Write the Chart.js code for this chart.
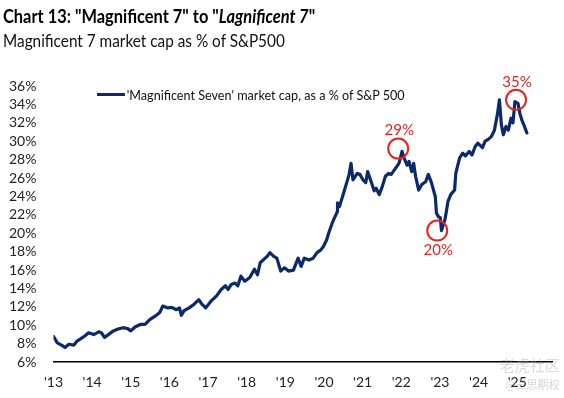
<!DOCTYPE html>
<html>
<head>
<meta charset="utf-8">
<script src="https://cdn.jsdelivr.net/npm/chart.js@4/dist/chart.umd.min.js"></script>
<style>
  html, body { margin:0; padding:0; background:#fff; }
  #wrap { position:relative; width:564px; height:398px; overflow:hidden; font-family:Lato,"Open Sans",sans-serif; }
  #c { position:absolute; left:0; top:0; }
  .fit { position:absolute; white-space:nowrap; transform-origin:0 50%; }
  .title { left:3px; top:4px; font-size:19px; font-weight:bold; color:#000; }
  .sub { left:3px; top:29px; font-size:18px; color:#111; }
  .legend { left:97px; top:86px; font-size:14px; color:#111; display:flex; align-items:center; }
  .legend .ln { display:inline-block; width:31px; height:3px; background:#0c2a6b; margin-right:2px; }
  .wm1 { position:absolute; left:500px; top:354px; font-size:15px; color:rgba(150,150,150,0.35); font-family:"Noto Sans CJK SC",sans-serif; }
  .wm2 { position:absolute; left:505px; top:376px; font-size:11px; color:rgba(150,150,150,0.4); font-family:"Noto Sans CJK SC",sans-serif; }
</style>
</head>
<body>
<div id="wrap">
  <canvas id="c" width="564" height="398"></canvas>
  <div class="fit title" data-w="312">Chart 13: "Magnificent 7" to "<i>Lagnificent 7</i>"</div>
  <div class="fit sub" data-w="282">Magnificent 7 market cap as % of S&amp;P500</div>
  <div class="fit legend" data-w="308"><span class="ln"></span>'Magnificent Seven' market cap, as a % of S&amp;P 500</div>
  <div class="wm1">老虎社区</div>
  <div class="wm2">@三思期权</div>
</div>
<script>
// ---- data (decimal years, % of S&P 500) ----
const dates = [
  2013.00,2013.10,2013.23,2013.30,2013.40,2013.53,2013.61,2013.69,2013.81,2013.91,
  2014.04,2014.17,2014.24,2014.32,2014.42,2014.55,2014.67,2014.80,2014.92,2015.00,
  2015.12,2015.25,2015.37,2015.50,2015.63,2015.75,2015.83,2015.96,2016.06,2016.18,
  2016.26,2016.31,2016.38,2016.51,2016.64,2016.76,2016.84,2016.94,2017.07,2017.22,
  2017.34,2017.45,2017.52,2017.60,2017.70,2017.77,2017.85,2017.95,2018.08,2018.20,
  2018.28,2018.35,2018.45,2018.53,2018.60,2018.70,2018.78,2018.83,2018.88,2018.98,
  2019.08,2019.21,2019.33,2019.41,2019.49,2019.61,2019.72,2019.82,2019.92,2019.99,
  2020.07,2020.12,2020.23,2020.35,2020.35,2020.40,2020.51,2020.61,2020.65,2020.70,
  2020.75,2020.86,2020.93,2021.01,2021.08,2021.13,2021.23,2021.30,2021.35,2021.43,
  2021.51,2021.59,2021.67,2021.74,2021.84,2021.94,2022.02,2022.07,2022.15,2022.20,
  2022.27,2022.32,2022.37,2022.45,2022.53,2022.63,2022.70,2022.78,2022.88,2022.91,
  2022.96,2023.01,2023.04,2023.13,2023.16,2023.21,2023.28,2023.38,2023.41,2023.51,
  2023.59,2023.66,2023.76,2023.83,2023.91,2023.98,2024.10,2024.17,2024.25,2024.33,
  2024.41,2024.49,2024.54,2024.59,2024.64,2024.71,2024.77,2024.84,2024.89,2024.94,
  2025.02,2025.07,2025.12,2025.17,2025.25
];
const values = [
  8.8,8.1,7.8,7.6,7.95,7.85,8.3,8.5,8.85,9.2,
  9.0,9.3,9.2,8.7,9.0,9.4,9.6,9.75,9.65,9.4,
  9.85,10.1,10.1,10.65,11.0,11.4,12.1,11.9,11.95,11.7,
  11.9,11.1,11.6,11.9,12.3,12.8,12.3,11.9,12.6,13.2,
  13.9,14.3,13.9,14.45,14.6,14.3,15.35,14.8,15.2,16.1,
  15.5,16.8,17.2,17.5,17.9,17.5,17.3,16.6,15.9,16.25,
  15.9,16.0,17.3,16.4,17.3,17.1,17.3,17.9,18.2,18.6,
  19.3,20.0,21.3,22.4,23.3,22.9,24.4,25.8,26.4,27.6,
  25.8,26.5,26.4,25.8,25.5,26.7,25.5,24.6,24.9,24.2,
  25.1,26.2,26.5,26.4,27.0,27.6,28.9,28.2,27.4,27.8,
  26.7,27.6,26.2,24.7,25.3,25.6,26.4,25.5,24.0,22.2,
  21.8,21.7,20.3,21.5,22.2,23.5,24.2,24.7,26.5,28.2,
  28.7,28.4,28.9,28.5,29.4,29.8,29.3,30.0,30.2,30.5,
  31.2,33.0,34.5,31.8,30.7,31.6,31.2,32.5,32.0,34.3,
  34.1,33.0,32.3,31.8,30.9
];
const tickYears = [2013,2014,2015,2016,2017,2018,2019,2020,2021,2022,2023,2024,2025];
const tickLabels = ["'13","'14","'15","'16","'17","'18","'19","'20","'21","'22","'23","'24","'25"];
const yTicks = [6,8,10,12,14,16,18,20,22,24,26,28,30,32,34,36];
// highlighted points (circled)
const hiDates  = [2021.92, 2022.93, 2024.97];
const hiValues = [29.2, 20.3, 34.5];
const hiLabels = ["29%", "20%", "35%"];

const RED = '#e52421';
const NAVY = '#0c2a6b';
const FONT = 'Lato,"Open Sans",sans-serif';

// fit header texts to their widths
document.querySelectorAll('.fit').forEach(el => {
  const w = el.scrollWidth;
  const target = +el.dataset.w;
  el.style.transform = 'scaleX(' + (target / w) + ')';
});

const hiLabelPlugin = {
  id: 'hiLabels',
  afterDatasetsDraw(chart) {
    const {ctx, scales:{x, y}} = chart;
    ctx.save();
    ctx.fillStyle = RED;
    ctx.font = '15px ' + FONT;
    ctx.textAlign = 'center';
    ctx.textBaseline = 'middle';
    const offs = [-18, 20, -18];
    hiDates.forEach((d, i) => {
      ctx.fillText(hiLabels[i], x.getPixelForValue(d) + 1, y.getPixelForValue(hiValues[i]) + offs[i]);
    });
    ctx.restore();
  }
};

new Chart(document.getElementById('c'), {
  type: 'line',
  data: {
    datasets: [
      {
        data: dates.map((d, i) => ({x: d, y: values[i]})),
        borderColor: NAVY,
        borderWidth: 3.2,
        borderJoinStyle: 'round',
        borderCapStyle: 'round',
        pointRadius: 0,
        tension: 0,
        fill: false,
        order: 2
      },
      {
        type: 'scatter',
        data: hiDates.map((d, i) => ({x: d, y: hiValues[i]})),
        pointStyle: 'circle',
        pointRadius: 10,
        borderColor: RED,
        borderWidth: 2,
        backgroundColor: 'rgba(0,0,0,0)',
        order: 1
      }
    ]
  },
  options: {
    responsive: false,
    animation: false,
    layout: { padding: { top: 86, right: 7, left: 0, bottom: 3 } },
    plugins: { legend: { display: false }, tooltip: { enabled: false } },
    scales: {
      x: {
        type: 'linear',
        min: 2013,
        max: 2025.9,
        afterBuildTicks(scale) { scale.ticks = tickYears.map(v => ({value: v})); },
        ticks: {
          autoSkip: false,
          maxRotation: 0,
          color: '#222',
          font: { family: FONT, size: 14 },
          padding: 4,
          callback: (v) => tickLabels[tickYears.indexOf(v)] || ''
        },
        grid: { display: false },
        border: { display: true, color: '#000', width: 1.5 }
      },
      y: {
        min: 6,
        max: 36,
        afterBuildTicks(scale) { scale.ticks = yTicks.map(v => ({value: v})); },
        ticks: {
          autoSkip: false,
          color: '#222',
          font: { family: FONT, size: 14 },
          padding: 9,
          callback: (v) => v + '%'
        },
        grid: { display: false },
        border: { display: false }
      }
    }
  },
  plugins: [hiLabelPlugin]
});
</script>
</body>
</html>
